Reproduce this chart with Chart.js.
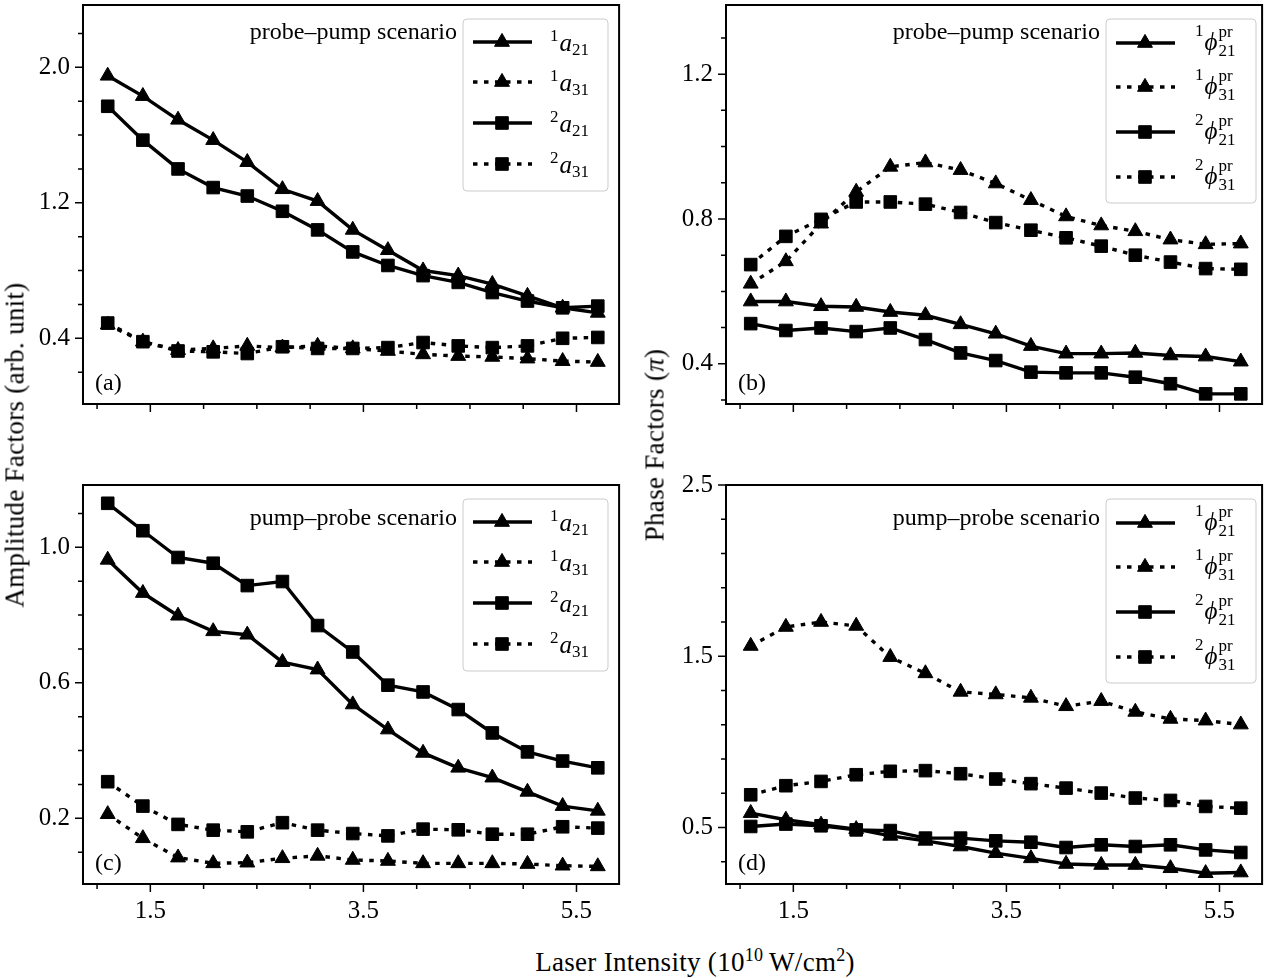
<!DOCTYPE html>
<html>
<head>
<meta charset="utf-8">
<script src="https://cdn.jsdelivr.net/npm/chart.js@4.4.1/dist/chart.umd.min.js"></script>
<style>
  html, body { margin: 0; padding: 0; background: #fff; }
  #fig { position: relative; width: 1270px; height: 978px; overflow: hidden; color: #000;
         font-family: "Liberation Serif", "DejaVu Serif", serif; }
  #fig canvas { position: absolute; }
  .lab { position: absolute; font-size: 27px; letter-spacing: 0.3px; white-space: nowrap; transform: translate(-50%, -50%); }
  .rot { transform: translate(-50%, -50%) rotate(-90deg); }
  .lab sup { font-size: 18px; vertical-align: 10px; line-height: 0; }
</style>
</head>
<body>
<div id="fig">
  <canvas id="pa"></canvas>
  <canvas id="pb"></canvas>
  <canvas id="pc"></canvas>
  <canvas id="pd"></canvas>
  <div class="lab rot" style="left:15px; top:445px;">Amplitude Factors (arb. unit)</div>
  <div class="lab rot" style="left:655px; top:445px;">Phase Factors (<i>π</i>)</div>
  <div class="lab" style="left:695px; top:962px;">Laser Intensity (10<sup>10</sup>&#8201;W/cm<sup>2</sup>)</div>
</div>
<script>
// laser intensity (10^10 W/cm^2)
const intensity = [1.10, 1.43, 1.76, 2.09, 2.41, 2.74, 3.07, 3.40, 3.73, 4.06, 4.39, 4.71, 5.04, 5.37, 5.70];

// (a) probe-pump amplitudes
const ppA1_21 = [1.95, 1.83, 1.69, 1.57, 1.44, 1.28, 1.21, 1.04, 0.92, 0.80, 0.77, 0.72, 0.65, 0.58, 0.55];
const ppA1_31 = [0.48, 0.38, 0.33, 0.34, 0.355, 0.345, 0.355, 0.34, 0.325, 0.305, 0.295, 0.29, 0.28, 0.265, 0.26];
const ppA2_21 = [1.77, 1.57, 1.40, 1.29, 1.24, 1.15, 1.04, 0.91, 0.83, 0.77, 0.73, 0.67, 0.62, 0.58, 0.59];
const ppA2_31 = [0.49, 0.38, 0.325, 0.32, 0.31, 0.35, 0.34, 0.34, 0.345, 0.375, 0.355, 0.345, 0.355, 0.40, 0.405];

// (b) probe-pump phases
const ppP1_21 = [0.572, 0.572, 0.559, 0.557, 0.543, 0.534, 0.509, 0.483, 0.449, 0.428, 0.428, 0.430, 0.423, 0.420, 0.406];
const ppP1_31 = [0.621, 0.683, 0.787, 0.875, 0.944, 0.956, 0.935, 0.898, 0.852, 0.807, 0.782, 0.766, 0.743, 0.730, 0.732];
const ppP2_21 = [0.511, 0.492, 0.499, 0.489, 0.499, 0.467, 0.430, 0.409, 0.377, 0.375, 0.375, 0.363, 0.345, 0.317, 0.317];
const ppP2_31 = [0.674, 0.752, 0.799, 0.847, 0.847, 0.841, 0.818, 0.790, 0.769, 0.748, 0.725, 0.700, 0.681, 0.663, 0.661];

// (c) pump-probe amplitudes
const pmA1_21 = [0.963, 0.865, 0.798, 0.752, 0.742, 0.661, 0.639, 0.536, 0.462, 0.393, 0.349, 0.320, 0.278, 0.236, 0.222];
const pmA1_31 = [0.212, 0.141, 0.084, 0.067, 0.069, 0.082, 0.089, 0.077, 0.074, 0.067, 0.067, 0.067, 0.065, 0.060, 0.058];
const pmA2_21 = [1.130, 1.049, 0.970, 0.953, 0.887, 0.899, 0.769, 0.691, 0.593, 0.573, 0.521, 0.452, 0.396, 0.369, 0.349];
const pmA2_31 = [0.308, 0.236, 0.182, 0.165, 0.160, 0.187, 0.165, 0.155, 0.148, 0.168, 0.166, 0.153, 0.153, 0.175, 0.171];

// (d) pump-probe phases
const pmP1_21 = [0.584, 0.545, 0.516, 0.490, 0.451, 0.422, 0.389, 0.350, 0.320, 0.287, 0.281, 0.281, 0.262, 0.233, 0.237];
const pmP1_31 = [1.560, 1.671, 1.700, 1.677, 1.495, 1.400, 1.292, 1.277, 1.257, 1.208, 1.238, 1.175, 1.134, 1.124, 1.101];
const pmP2_21 = [0.506, 0.520, 0.510, 0.486, 0.482, 0.438, 0.438, 0.422, 0.414, 0.383, 0.399, 0.389, 0.399, 0.369, 0.354];
const pmP2_31 = [0.691, 0.744, 0.769, 0.808, 0.828, 0.832, 0.814, 0.783, 0.756, 0.730, 0.701, 0.672, 0.658, 0.623, 0.613];

// ticks
const xMajor = [1.5, 3.5, 5.5];
const xMinor = [1.0, 1.5, 2.0, 2.5, 3.0, 3.5, 4.0, 4.5, 5.0, 5.5];
const yMajorA = [0.4, 1.2, 2.0];
const yMinorA = [0.2, 0.4, 0.6, 0.8, 1.0, 1.2, 1.4, 1.6, 1.8, 2.0, 2.2];
const yMajorB = [0.4, 0.8, 1.2];
const yMinorB = [0.3, 0.4, 0.5, 0.6, 0.7, 0.8, 0.9, 1.0, 1.1, 1.2, 1.3];
const yMajorC = [0.2, 0.6, 1.0];
const yMinorC = [0.1, 0.2, 0.3, 0.4, 0.5, 0.6, 0.7, 0.8, 0.9, 1.0, 1.1];
const yMajorD = [0.5, 1.5, 2.5];
const yMinorD = [0.3, 0.5, 0.7, 0.9, 1.1, 1.3, 1.5, 1.7, 1.9, 2.1, 2.3, 2.5];

// legend labels: [pre-superscript, symbol, subscript, superscript]
const ampLabels = [['1', 'a', '21', ''], ['1', 'a', '31', ''], ['2', 'a', '21', ''], ['2', 'a', '31', '']];
const phaseLabels = [['1', 'ϕ', '21', 'pr'], ['1', 'ϕ', '31', 'pr'], ['2', 'ϕ', '21', 'pr'], ['2', 'ϕ', '31', 'pr']];
const scenarios = ['probe–pump scenario', 'pump–probe scenario'];

const SERIF = '"Liberation Serif", "DejaVu Serif", serif';
const seriesStyle = [
  { marker: 'triangle', dash: false },
  { marker: 'triangle', dash: true },
  { marker: 'rect', dash: false },
  { marker: 'rect', dash: true }
];
const LW = 3.4;
const DOTS = [4.5, 6.5];

function markerRadius(m) { return m === 'triangle' ? 8.6 : 8.9; }

function makeDataset(ys, i) {
  const st = seriesStyle[i];
  return {
    data: intensity.map((x, k) => ({ x: x, y: ys[k] })),
    borderColor: '#000',
    backgroundColor: '#000',
    borderWidth: LW,
    borderDash: st.dash ? DOTS : [],
    pointStyle: st.marker,
    pointRadius: markerRadius(st.marker),
    pointHoverRadius: markerRadius(st.marker),
    pointBorderWidth: 1,
    tension: 0,
    fill: false,
    order: 4 - i
  };
}

function drawLabel(ctx, x, y, parts, phase) {
  ctx.textAlign = 'left';
  ctx.textBaseline = 'alphabetic';
  const small = '17px ' + SERIF, big = 'italic 25px ' + SERIF;
  ctx.font = small;
  ctx.fillText(parts[0], x, phase ? y - 7 : y - 1);
  x += ctx.measureText(parts[0]).width + 1;
  ctx.font = big;
  ctx.fillText(parts[1], x, phase ? y + 7 : y + 9);
  x += ctx.measureText(parts[1]).width + (phase ? 1 : 0);
  ctx.font = small;
  ctx.fillText(parts[2], x, y + 13);
  if (parts[3]) ctx.fillText(parts[3], x, y - 6);
}

function decoPlugin(p) {
  return {
    id: 'deco',
    afterDatasetsDraw(chart) {
      const ctx = chart.ctx, a = chart.chartArea;
      const sx = chart.scales.x, sy = chart.scales.y;
      ctx.save();
      ctx.setLineDash([]);
      ctx.strokeStyle = '#000';
      ctx.fillStyle = '#000';
      // axes frame
      ctx.lineWidth = 2;
      ctx.strokeRect(a.left, a.top, a.right - a.left, a.bottom - a.top);
      // tick marks
      ctx.lineWidth = 1.5;
      ctx.beginPath();
      xMinor.forEach(v => {
        const px = sx.getPixelForValue(v);
        const len = xMajor.includes(v) ? 8 : 5;
        ctx.moveTo(px, a.bottom);
        ctx.lineTo(px, a.bottom + len);
      });
      p.yMinor.forEach(v => {
        const py = sy.getPixelForValue(v);
        const len = p.yMajor.some(m => Math.abs(m - v) < 1e-9) ? 8 : 5;
        ctx.moveTo(a.left, py);
        ctx.lineTo(a.left - len, py);
      });
      ctx.stroke();

      // panel letter
      ctx.font = '24px ' + SERIF;
      ctx.textAlign = 'left';
      ctx.textBaseline = 'middle';
      ctx.fillText(p.letter, a.left + 12, a.bottom - 20);

      // scenario text
      ctx.textAlign = 'right';
      ctx.textBaseline = 'alphabetic';
      ctx.fillText(p.scenario, a.left + 374, a.top + p.textY);

      // legend
      const lg = p.legend;
      const bx = a.left + 380, by = a.top + 14;
      ctx.beginPath();
      ctx.roundRect(bx, by, lg.w, lg.h, 4);
      ctx.fillStyle = 'rgba(255,255,255,0.8)';
      ctx.fill();
      ctx.strokeStyle = '#cccccc';
      ctx.lineWidth = 1;
      ctx.stroke();
      ctx.strokeStyle = '#000';
      ctx.fillStyle = '#000';
      lg.rows.forEach((off, i) => {
        const y = a.top + off;
        const st = seriesStyle[i];
        ctx.lineWidth = LW;
        ctx.setLineDash(st.dash ? DOTS : []);
        ctx.beginPath();
        ctx.moveTo(a.left + 390, y);
        ctx.lineTo(a.left + 449, y);
        ctx.stroke();
        ctx.setLineDash([]);
        ctx.lineWidth = 1;
        Chart.helpers.drawPoint(ctx, { pointStyle: st.marker, radius: markerRadius(st.marker), borderWidth: 1, rotation: 0 }, a.left + 419, y);
        drawLabel(ctx, a.left + lg.labelX, y, p.labels[i], p.phase);
      });
      ctx.restore();
    }
  };
}

const PW = 538, PH = 399, PADL = 80, PADT = 32, PADR = 8, PADB = 50;

function makePanel(id, left, top, p) {
  const cv = document.getElementById(id);
  cv.width = PADL + PW + PADR;
  cv.height = PADT + PH + PADB;
  cv.style.left = (left - PADL) + 'px';
  cv.style.top = (top - PADT) + 'px';
  new Chart(cv, {
    type: 'line',
    data: { datasets: p.series.map(makeDataset) },
    options: {
      responsive: false,
      animation: false,
      devicePixelRatio: 1,
      layout: { padding: { left: 0, top: PADT, right: PADR, bottom: 0 } },
      plugins: { legend: { display: false }, tooltip: { enabled: false } },
      scales: {
        x: {
          type: 'linear',
          min: 0.868, max: 5.90,
          afterBuildTicks: s => { s.ticks = xMajor.map(v => ({ value: v })); },
          afterFit: s => { s.height = PADB; },
          grid: { display: false, drawTicks: false },
          border: { display: false },
          ticks: {
            display: p.showX,
            padding: 12,
            maxRotation: 0,
            color: '#000',
            font: { family: SERIF, size: 25 },
            callback: v => Number(v).toFixed(1)
          }
        },
        y: {
          type: 'linear',
          min: p.yMin, max: p.yMax,
          afterBuildTicks: s => { s.ticks = p.yMajor.map(v => ({ value: v })); },
          afterFit: s => { s.width = PADL; },
          grid: { display: false, drawTicks: false },
          border: { display: false },
          ticks: {
            padding: 13,
            color: '#000',
            font: { family: SERIF, size: 25 },
            callback: v => Number(v).toFixed(1)
          }
        }
      }
    },
    plugins: [decoPlugin(p)]
  });
}

const ampLegend = { w: 145, h: 172, rows: [37, 77, 118, 159], labelX: 467 };
const phaseLegend = { w: 150, h: 184, rows: [38, 82, 127, 172], labelX: 469 };

makePanel('pa', 83, 5, {
  series: [ppA1_21, ppA1_31, ppA2_21, ppA2_31],
  yMin: 0.012, yMax: 2.368, yMajor: yMajorA, yMinor: yMinorA,
  showX: false, letter: '(a)', scenario: scenarios[0], textY: 34,
  legend: ampLegend, labels: ampLabels, phase: false
});
makePanel('pb', 726, 5, {
  series: [ppP1_21, ppP1_31, ppP2_21, ppP2_31],
  yMin: 0.289, yMax: 1.391, yMajor: yMajorB, yMinor: yMinorB,
  showX: false, letter: '(b)', scenario: scenarios[0], textY: 34,
  legend: phaseLegend, labels: phaseLabels, phase: true
});
makePanel('pc', 83, 485, {
  series: [pmA1_21, pmA1_31, pmA2_21, pmA2_31],
  yMin: 0.006, yMax: 1.184, yMajor: yMajorC, yMinor: yMinorC,
  showX: true, letter: '(c)', scenario: scenarios[1], textY: 40,
  legend: ampLegend, labels: ampLabels, phase: false
});
makePanel('pd', 726, 485, {
  series: [pmP1_21, pmP1_31, pmP2_21, pmP2_31],
  yMin: 0.170, yMax: 2.5, yMajor: yMajorD, yMinor: yMinorD,
  showX: true, letter: '(d)', scenario: scenarios[1], textY: 40,
  legend: phaseLegend, labels: phaseLabels, phase: true
});
</script>
</body>
</html>
